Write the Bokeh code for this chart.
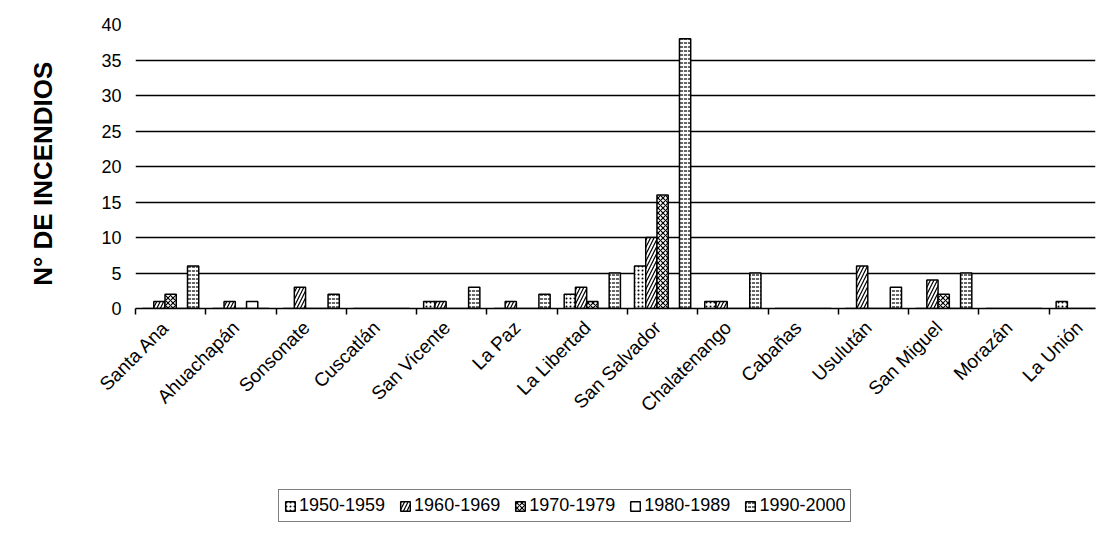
from bokeh.plotting import figure
from bokeh.layouts import column
from bokeh.models import FixedTicker, Legend, LegendItem, ColumnDataSource, Range1d
from bokeh.embed import file_html
from bokeh.resources import INLINE

departamentos = ["Santa Ana", "Ahuachapán", "Sonsonate", "Cuscatlán", "San Vicente",
                 "La Paz", "La Libertad", "San Salvador", "Chalatenango", "Cabañas",
                 "Usulután", "San Miguel", "Morazán", "La Unión"]
decadas = ["1950-1959", "1960-1969", "1970-1979", "1980-1989", "1990-2000"]
d1950 = [0, 0, 0, 0, 1, 0, 2, 6, 1, 0, 0, 0, 0, 1]
d1960 = [1, 1, 3, 0, 1, 1, 3, 10, 1, 0, 6, 4, 0, 0]
d1970 = [2, 0, 0, 0, 0, 0, 1, 16, 0, 0, 0, 2, 0, 0]
d1980 = [0, 1, 0, 0, 0, 0, 0, 0, 0, 0, 0, 0, 0, 0]
d1990 = [6, 0, 2, 0, 3, 2, 5, 38, 5, 0, 3, 5, 0, 0]
y_ticks = [0, 5, 10, 15, 20, 25, 30, 35, 40]

series = [d1950, d1960, d1970, d1980, d1990]
hatches = [("dot", 4), ("right_diagonal_line", 7), ("diagonal_cross", 5), (" ", 6), ("horizontal_dash", 4)]

FONT = "Liberation Sans"
n = len(departamentos)
bw = 0.16
pad = (1 - bw * len(series)) / 2

p = figure(width=1100, height=440, output_backend="svg", toolbar_location=None,
           x_range=Range1d(0, 13.66), y_range=Range1d(0, 40),
           min_border_left=135, min_border_right=5, min_border_top=24, min_border_bottom=132)
p.outline_line_color = None

# legend-only figure below the chart
p2 = figure(width=1100, height=90, output_backend="svg", toolbar_location=None,
            x_range=Range1d(0, 1), y_range=Range1d(0, 1), x_axis_type=None, y_axis_type=None,
            min_border=0)
p2.outline_line_color = None
p2.xgrid.visible = False
p2.ygrid.visible = False

items = []
for j, (vals, (hp, hs)) in enumerate(zip(series, hatches)):
    xs = [i + pad + bw * (j + 0.5) for i in range(n)]
    src = ColumnDataSource(dict(x=xs, top=vals))
    style = dict(fill_color="white", line_color="black", line_width=1.5, hatch_pattern=hp,
                 hatch_color="black", hatch_scale=hs, hatch_weight=1.2)
    p.vbar(x="x", top="top", width=bw, bottom=0, source=src, **style)
    # hidden proxy glyph that only provides the legend swatch
    r2 = p2.vbar(x=[0.5], top=[0.5], width=0.01, bottom=0.5, **style)
    r2.visible = False
    items.append(LegendItem(label=decadas[j], renderers=[r2]))

# axes
p.xaxis.ticker = FixedTicker(ticks=[i + 0.43 for i in range(n)], minor_ticks=list(range(n + 1)))
p.xaxis.major_label_overrides = {i + 0.43: d for i, d in enumerate(departamentos)}
p.xaxis.major_label_orientation = 0.7854
p.xaxis.major_tick_line_color = None
p.xaxis.major_tick_out = 6
p.xaxis.minor_tick_line_color = "black"
p.xaxis.minor_tick_line_width = 1.5
p.xaxis.minor_tick_out = 6
p.xaxis.minor_tick_in = 0
p.xaxis.axis_line_color = "black"
p.xaxis.axis_line_width = 1.5
p.xaxis.major_label_text_font = FONT
p.xaxis.major_label_text_font_size = "19px"
p.xaxis.major_label_text_color = "black"
p.xaxis.major_label_standoff = 10

p.yaxis.ticker = FixedTicker(ticks=y_ticks)
p.yaxis.axis_line_color = None
p.yaxis.major_tick_line_color = None
p.yaxis.major_tick_out = 0
p.yaxis.major_tick_in = 0
p.yaxis.minor_tick_line_color = None
p.yaxis.major_label_text_font = FONT
p.yaxis.major_label_text_font_size = "18px"
p.yaxis.major_label_text_color = "black"
p.yaxis.major_label_standoff = 14
p.yaxis.axis_label = "N° DE INCENDIOS\u00a0\u00a0"
p.yaxis.axis_label_text_font = FONT
p.yaxis.axis_label_text_font_style = "bold"
p.yaxis.axis_label_text_font_size = "26px"
p.yaxis.axis_label_text_color = "black"
p.yaxis.axis_label_standoff = 40

p.xgrid.grid_line_color = None
p.ygrid.grid_line_color = "black"
p.ygrid.grid_line_width = 1.5

legend = Legend(items=items, orientation="horizontal", location=(143, 8),
                glyph_width=12, glyph_height=12, label_standoff=3, spacing=14,
                padding=5, margin=0, border_line_color="black", border_line_width=1.5,
                background_fill_color="white", background_fill_alpha=1,
                inactive_fill_alpha=0,
                label_text_font=FONT, label_text_font_size="18px", label_text_color="black")
p2.add_layout(legend, "center")

open("out.html", "w").write(file_html(column(p, p2), INLINE))
